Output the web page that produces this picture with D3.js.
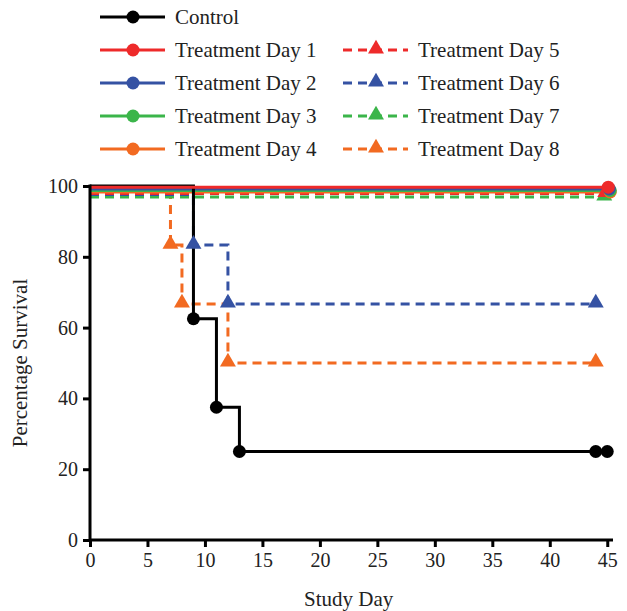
<!DOCTYPE html>
<html>
<head>
<meta charset="utf-8">
<script src="https://cdn.jsdelivr.net/npm/d3@7"></script>
<style>
  body { margin: 0; background: #fff; }
  svg text { font-family: 'Liberation Serif', 'Times New Roman', Tinos, 'DejaVu Serif', serif; fill: #222; }
</style>
</head>
<body>
<div class="svg-container"></div>
<script>
// survival data (day, percent survival)
const seriesNames = [
  "Control",
  "Treatment Day 1", "Treatment Day 2", "Treatment Day 3", "Treatment Day 4",
  "Treatment Day 5", "Treatment Day 6", "Treatment Day 7", "Treatment Day 8",
];
const controlDays = [0, 9, 11, 13, 44, 45];
const controlSurvival = [100, 62.5, 37.5, 25, 25, 25];
const day6Days = [0, 9, 12, 44];
const day6Survival = [100, 83.3, 66.7, 66.7];
const day8Days = [0, 7, 8, 12, 44];
const day8Survival = [100, 83.3, 66.7, 50, 50];
const flatDays = [0, 45];
const flatSurvival = [100, 100];
const xTicks = [0, 5, 10, 15, 20, 25, 30, 35, 40, 45];
const yTicks = [0, 20, 40, 60, 80, 100];

const FONT = "'Liberation Serif', 'Times New Roman', Tinos, 'DejaVu Serif', serif";

const colors = {
  black: "#000000",
  red: "#ee2a2a",
  blue: "#3552a3",
  green: "#3bb54a",
  orange: "#f26a21",
};

const width = 627;
const height = 611;

const x = d3.scaleLinear().domain([0, 45.5]).range([90, 613]);
const y = d3.scaleLinear().domain([0, 100]).range([540, 186]);

// each series: points, marker shape, dash, colour, little nudge so the 100% lines don't hide each other
const series = [
  { name: seriesNames[8], days: day8Days, surv: day8Survival, color: colors.orange, dashed: true, nudge: 9.5, mx: 0, markAt: [7, 8, 12, 44] },
  { name: seriesNames[7], days: flatDays, surv: flatSurvival, color: colors.green, dashed: true, nudge: 11, mx: -3, markAt: [45] },
  { name: seriesNames[6], days: day6Days, surv: day6Survival, color: colors.blue, dashed: true, nudge: 8.5, mx: 0, markAt: [9, 12, 44] },
  { name: seriesNames[5], days: flatDays, surv: flatSurvival, color: colors.red, dashed: true, nudge: 7.5, mx: -2, markAt: [45] },
  { name: seriesNames[4], days: flatDays, surv: flatSurvival, color: colors.orange, dashed: false, nudge: 6, mx: 3, markAt: [45] },
  { name: seriesNames[3], days: flatDays, surv: flatSurvival, color: colors.green, dashed: false, nudge: 4.5, mx: 3, markAt: [45] },
  { name: seriesNames[2], days: flatDays, surv: flatSurvival, color: colors.blue, dashed: false, nudge: 3, mx: 2, markAt: [45] },
  { name: seriesNames[0], days: controlDays, surv: controlSurvival, color: colors.black, dashed: false, nudge: 0, mx: 0, markAt: [9, 11, 13, 44, 45] },
  { name: seriesNames[1], days: flatDays, surv: flatSurvival, color: colors.red, dashed: false, nudge: 1.2, mx: 1, markAt: [45] },
];

const svg = d3
  .select(".svg-container")
  .append("svg")
  .attr("width", width)
  .attr("height", height);

// y position with nudge for the top (100%) level only
function yPos(s, v) {
  return y(v) + (v === 100 ? s.nudge : 0);
}

const triangle = d3.symbol().type(d3.symbolTriangle).size(110);

// series lines
series.forEach((s) => {
  const pts = s.days.map((d, i) => [x(d), yPos(s, s.surv[i])]);
  const line = d3.line().curve(d3.curveStepAfter);
  svg
    .append("path")
    .attr("d", line(pts))
    .attr("fill", "none")
    .attr("stroke", s.color)
    .attr("stroke-width", 3)
    .attr("stroke-dasharray", s.dashed ? "9,6" : null);
});

// markers
series.forEach((s) => {
  const g = svg.append("g");
  s.markAt.forEach((day) => {
    const i = s.days.indexOf(day);
    const cx = x(day) + (day === 45 ? s.mx : 0);
    const cy = yPos(s, s.surv[i]);
    if (s.dashed) {
      g.append("path")
        .attr("d", triangle())
        .attr("transform", `translate(${cx},${cy - 1})`)
        .attr("fill", s.color);
    } else {
      g.append("circle")
        .attr("cx", cx)
        .attr("cy", cy)
        .attr("r", 6.5)
        .attr("fill", s.color);
    }
  });
});

// axes
const xAxis = svg
  .append("g")
  .attr("transform", `translate(0,${y(0)})`)
  .call(d3.axisBottom(x).tickValues(xTicks).tickSize(7).tickPadding(6));
const yAxis = svg
  .append("g")
  .attr("transform", `translate(${x(0)},0)`)
  .call(d3.axisLeft(y).tickValues(yTicks).tickSize(7).tickPadding(5));

[xAxis, yAxis].forEach((ax) => {
  ax.attr("font-family", FONT);
  ax.select(".domain").attr("stroke", "#000").attr("stroke-width", 3);
  ax.selectAll(".tick line").attr("stroke", "#000").attr("stroke-width", 3);
  ax.selectAll(".tick text")
    .attr("font-family", FONT)
    .attr("font-size", "20px")
    .attr("fill", "#333");
});
xAxis.select(".domain").attr("d", `M${x(0)},0H${x(45.5)}`);
yAxis.select(".domain").attr("d", `M0,${y(0)}V${y(100) - 1.5}`);

// axis titles
svg
  .append("text")
  .attr("x", (x(0) + x(45)) / 2)
  .attr("y", 606)
  .attr("text-anchor", "middle")
  .attr("font-family", FONT)
  .attr("font-size", "21px")
  .text("Study Day");

svg
  .append("text")
  .attr("transform", `translate(27,${y(50)}) rotate(-90)`)
  .attr("text-anchor", "middle")
  .attr("font-family", FONT)
  .attr("font-size", "21px")
  .text("Percentage Survival");

// legend
const legendItems = [
  { name: seriesNames[0], color: colors.black, dashed: false, col: 0, row: 0 },
  { name: seriesNames[1], color: colors.red, dashed: false, col: 0, row: 1 },
  { name: seriesNames[2], color: colors.blue, dashed: false, col: 0, row: 2 },
  { name: seriesNames[3], color: colors.green, dashed: false, col: 0, row: 3 },
  { name: seriesNames[4], color: colors.orange, dashed: false, col: 0, row: 4 },
  { name: seriesNames[5], color: colors.red, dashed: true, col: 1, row: 1 },
  { name: seriesNames[6], color: colors.blue, dashed: true, col: 1, row: 2 },
  { name: seriesNames[7], color: colors.green, dashed: true, col: 1, row: 3 },
  { name: seriesNames[8], color: colors.orange, dashed: true, col: 1, row: 4 },
];

const legend = svg
  .append("g")
  .selectAll("g")
  .data(legendItems)
  .enter()
  .append("g")
  .attr("transform", (d) => `translate(${d.col ? 343 : 100},${17 + d.row * 33})`);

legend
  .append("line")
  .attr("x1", 0)
  .attr("x2", 65)
  .attr("stroke", (d) => d.color)
  .attr("stroke-width", 3)
  .attr("stroke-dasharray", (d) => (d.dashed ? "9,6" : null));

legend.each(function (d) {
  const g = d3.select(this);
  if (d.dashed) {
    g.append("path")
      .attr("d", triangle())
      .attr("transform", "translate(33,-1)")
      .attr("fill", d.color);
  } else {
    g.append("circle").attr("cx", 33).attr("r", 6.5).attr("fill", d.color);
  }
});

legend
  .append("text")
  .attr("x", 75)
  .attr("y", 7)
  .attr("font-family", FONT)
  .attr("font-size", "21px")
  .attr("fill", "#222")
  .text((d) => d.name);
</script>
</body>
</html>
